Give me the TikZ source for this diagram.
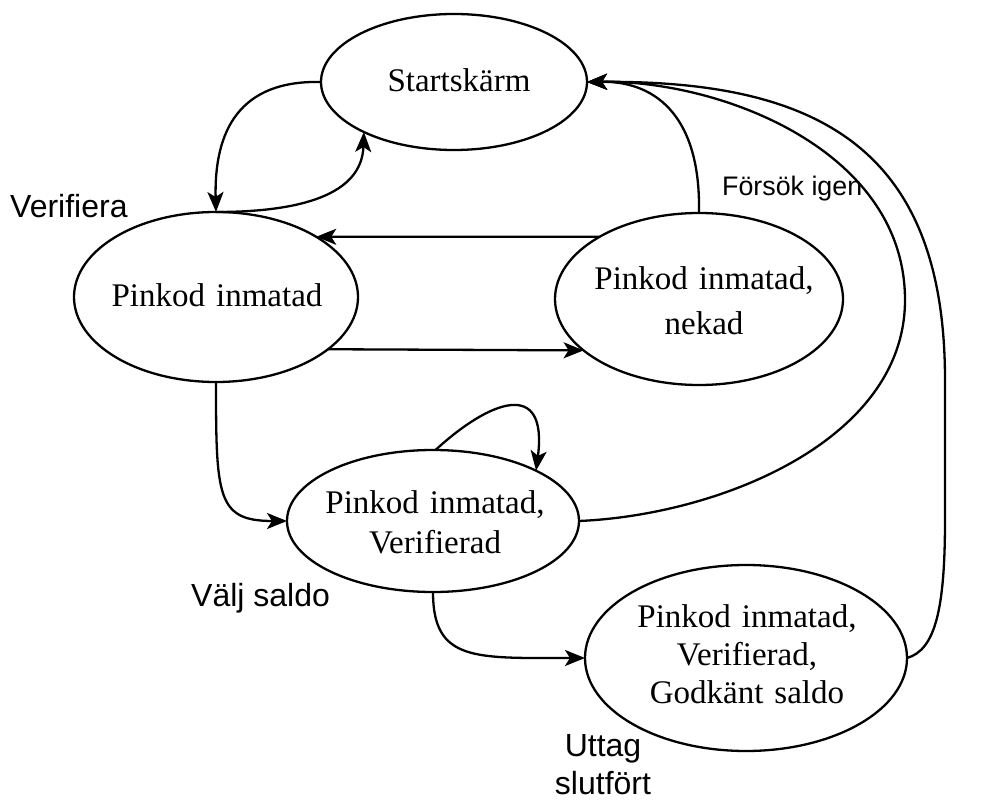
\documentclass[tikz,border=0pt]{standalone}
\usepackage{fontspec}
\newfontfamily\serifF{Liberation Serif}
\newfontfamily\sansF{Liberation Sans}
\usetikzlibrary{shapes.geometric,arrows.meta}
\begin{document}
\begin{tikzpicture}[x=1pt,y=-1pt,
  st/.style={ellipse,draw,line width=2.3pt,inner sep=0pt,outer sep=0pt},
  conn/.style={line width=2.3pt,-{Stealth[length=20pt,width=16pt,inset=5pt]}},
  stxt/.style={font=\serifF\fontsize{33}{40}\selectfont,inner sep=0pt,anchor=base,text width=300pt,align=center},
  lbl/.style={font=\sansF\fontsize{32}{38}\selectfont,inner sep=0pt,anchor=base west},
]
\useasboundingbox (0,0) rectangle (983,802);
\node[st,minimum width=266pt,minimum height=136pt] (s) at (454,82) {};
\node[st,minimum width=284pt,minimum height=170pt] (p) at (216,297) {};
\node[st,minimum width=288pt,minimum height=172pt] (n) at (699,299) {};
\node[st,minimum width=292pt,minimum height=142pt] (v) at (433,521) {};
\node[st,minimum width=322pt,minimum height=186pt] (g) at (746,658) {};

\node[stxt] (ts) at (459,92) {Startskärm};
\node[stxt] (tp) at (217,307) {Pinkod inmatad};
\node[stxt,font=\serifF\fontsize{33}{45}\selectfont] (tn) at (704,290) {Pinkod inmatad,\\nekad};
\node[stxt] (tv) at (435,513) {Pinkod inmatad,\\Verifierad};
\node[stxt,font=\serifF\fontsize{33}{38}\selectfont] (tg) at (747,627) {Pinkod inmatad,\\Verifierad,\\Godkänt saldo};

\node[lbl] (l1) at (10,218) {Verifiera};
\node[lbl,font=\sansF\fontsize{26.8}{32}\selectfont] (l2) at (722,196) {Försök igen};
\node[lbl] (l3) at (191,606) {Välj saldo};
\node[lbl,anchor=base,text width=150pt,align=center] (l4) at (603,756) {Uttag\\slutfört};

\draw[conn] (s.west) .. controls (240,80) and (214,130) .. (p.north);
\draw[conn] (p.north) .. controls (300,212) and (362,195) .. (s.209);
\draw[conn] (n.148) -- (p.31);
\draw[conn] (p.-25) -- (n.204);
\draw[conn] (n.north) .. controls (701,110) and (650,81) .. (s.east);
\draw[conn] (p.south) .. controls +(0,115) and +(-70,0) .. (v.west);
\draw[conn] (v.88) .. controls (490,400) and (548,378) .. (v.26);
\draw[conn] (v.south) .. controls +(0,70) and +(-110,0) .. (g.west);
\draw[conn] (v.east) .. controls (720,515) and (905,440) .. (905,300) .. controls (905,150) and (720,80) .. (s.east);
\draw[conn] (g.east) .. controls (935,650) and (945,610) .. (945,520) -- (945,380) .. controls (945,150) and (820,80) .. (s.east);
\end{tikzpicture}
\end{document}
